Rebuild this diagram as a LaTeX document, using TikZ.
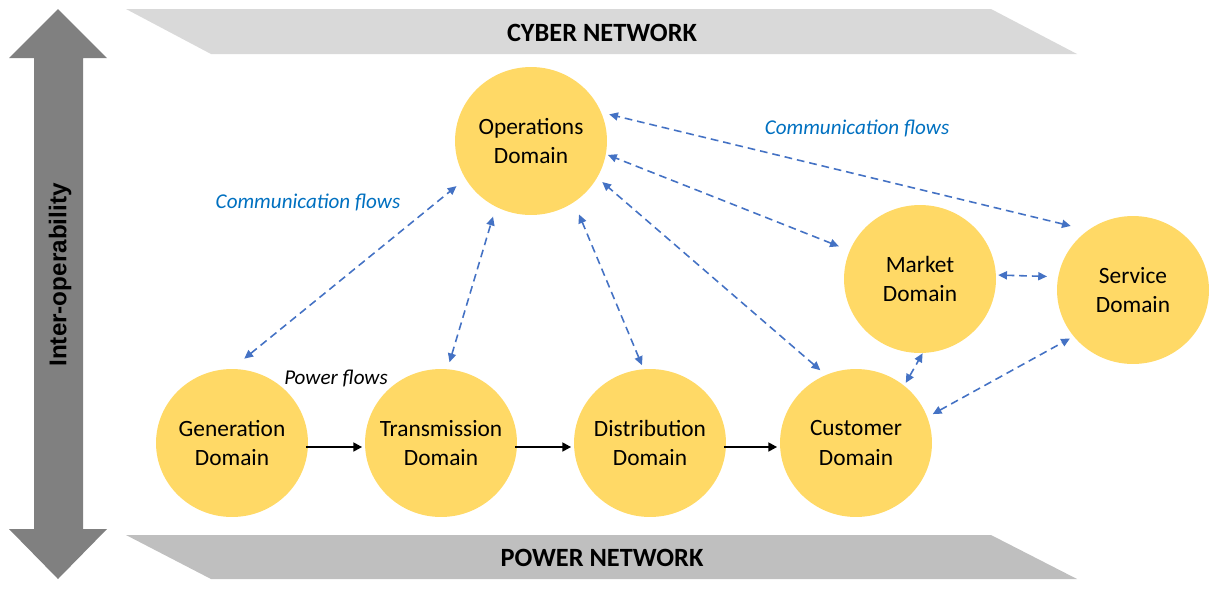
\documentclass[tikz,border=0pt]{standalone}
\usepackage{fontspec}
\setmainfont{Carlito}
\newfontfamily\arialfont{Liberation Sans}
\usetikzlibrary{shapes.geometric, arrows.meta}

\definecolor{domainyellow}{HTML}{FFD966}
\definecolor{cyberband}{HTML}{D9D9D9}
\definecolor{powerband}{HTML}{BFBFBF}
\definecolor{axisgray}{HTML}{808080}
\definecolor{commblue}{HTML}{4472C4}
\definecolor{commtext}{HTML}{0070C0}

\begin{document}
\begin{tikzpicture}[
    x=0.02cm, y=-0.02cm,
    domainbox/.style={ellipse, fill=domainyellow, minimum width=3.04cm, minimum height=2.96cm, inner xsep=-30pt, inner ysep=0pt, align=center, font=\fontsize{13.3}{17}\selectfont},
    bandlabel/.style={font=\fontsize{15}{18}\selectfont\bfseries},
    flowlabel/.style={font=\fontsize{12}{14}\selectfont\itshape},
    powerarrow/.style={-{Triangle[length=5pt, width=5pt]}, line width=1.6pt},
    commarrow/.style={{Triangle[length=5pt, width=4.6pt]}-{Triangle[length=5pt, width=4.6pt]}, commblue, line width=0.9pt, dash pattern=on 4.4pt off 2.8pt}
]
    \useasboundingbox (0,0) rectangle (1223,599);

    % network bands and the inter-operability axis
    \fill[cyberband] (126,9) -- (991,9) -- (1077,54) -- (211,54) -- cycle;
    \fill[powerband] (126,535) -- (991,535) -- (1077,579) -- (211,579) -- cycle;
    \fill[axisgray] (58,9) -- (107,58) -- (83,58) -- (83,529) -- (107,529) -- (58,579) -- (9,529) -- (34,529) -- (34,58) -- (9,58) -- cycle;
    \node[bandlabel] (cyber) at (602,33) {CYBER NETWORK};
    \node[bandlabel] (power) at (602,558) {POWER NETWORK};
    \node[rotate=90, font=\arialfont\fontsize{13.8}{16}\selectfont\bfseries] (interop) at (60,275) {Inter-operability};

    % domains
    \node[domainbox] (ops) at (531,141) {Operations\\Domain};
    \node[domainbox] (gen) at (232,443) {Generation\\Domain};
    \node[domainbox] (trans) at (441,443) {Transmission\\Domain};
    \node[domainbox] (dist) at (650,443) {Distribution\\Domain};
    \node[domainbox] (cust) at (856,443) {Customer\\Domain};
    \node[domainbox] (market) at (920,279) {Market\\Domain};
    \node[domainbox] (service) at (1133,290) {Service\\Domain};

    \node[flowlabel, text=commtext] (commleft) at (308,202) {Communication flows};
    \node[flowlabel, text=commtext] (commright) at (857,128) {Communication flows};
    \node[flowlabel] (pflow) at (336,378) {Power flows};

    % power flows
    \draw[powerarrow, shorten <=-1pt, shorten >=1.5pt] (gen.-3) -- (trans.183);
    \draw[powerarrow, shorten <=-1pt, shorten >=1.5pt] (trans.-3) -- (dist.183);
    \draw[powerarrow, shorten <=-1pt, shorten >=1.5pt] (dist.-3) -- (cust.183);

    % communication flows
    \draw[commarrow, shorten <=9pt, shorten >=6.5pt] (gen.90) -- (ops.210);
    \draw[commarrow, shorten <=4pt, shorten >=5.7pt] (trans.85) -- (ops.242);
    \draw[commarrow, shorten <=2.3pt, shorten >=7.4pt] (dist.95) -- (ops.305);
    \draw[commarrow, shorten <=4pt, shorten >=3.7pt] (cust.114) -- (ops.331);
    \draw[commarrow, shorten <=6.5pt, shorten >=1.1pt] (market.158) -- (ops.350);
    \draw[commarrow, shorten <=10pt, shorten >=4.5pt] (service.127) -- (ops.22);
    \draw[commarrow, shorten <=1.1pt, shorten >=6.2pt] (market.3) -- (service.170);
    \draw[commarrow, shorten <=1.7pt] (cust.50) -- (market.272);
    \draw[commarrow, shorten <=3.4pt, shorten >=2.3pt] (cust.20) -- (service.218);
\end{tikzpicture}
\end{document}
